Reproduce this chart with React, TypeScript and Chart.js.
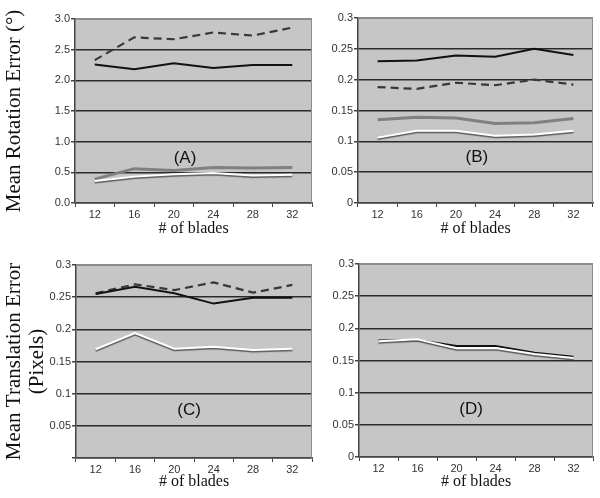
import React, { useEffect, useRef } from 'react';
import { Chart, registerables } from 'chart.js';

Chart.register(...registerables);

// ---------- data ----------
const blades = ['12', '16', '20', '24', '28', '32'];

// (A) rotation error, degrees
const rotA_black = [2.26, 2.18, 2.28, 2.2, 2.25, 2.25];
const rotA_dashed = [2.33, 2.7, 2.67, 2.78, 2.73, 2.86];
const rotA_gray = [0.39, 0.56, 0.53, 0.58, 0.57, 0.58];
const rotA_white = [0.36, 0.43, 0.47, 0.49, 0.45, 0.46];

// (B) rotation error, degrees
const rotB_black = [0.23, 0.231, 0.239, 0.237, 0.25, 0.24];
const rotB_dashed = [0.188, 0.185, 0.195, 0.191, 0.2, 0.192];
const rotB_gray = [0.135, 0.139, 0.138, 0.129, 0.13, 0.137];
const rotB_white = [0.106, 0.117, 0.117, 0.109, 0.111, 0.117];

// (C) translation error, pixels
const transC_black = [0.255, 0.266, 0.256, 0.24, 0.249, 0.249];
const transC_dashed = [0.256, 0.27, 0.261, 0.273, 0.257, 0.269];
const transC_white = [0.169, 0.194, 0.17, 0.173, 0.168, 0.17];

// (D) translation error, pixels
const transD_black = [0.181, 0.182, 0.1725, 0.1725, 0.162, 0.156];
const transD_white = [0.18, 0.183, 0.169, 0.1695, 0.16, 0.154];

const rotTicksA = { min: 0, max: 3, step: 0.5 };
const smallTicks = { min: 0, max: 0.3, step: 0.05 };

// ---------- styles ----------
const SANS = 'Arial, "Liberation Sans", sans-serif';
const SERIF = '"Times New Roman", "Liberation Serif", serif';

const lineBlack = (data: number[]) => ({ data, borderColor: '#111111', borderWidth: 2 });
const lineDashed = (data: number[]) => ({ data, borderColor: '#383838', borderWidth: 2.2, borderDash: [8, 5] });
const lineGray = (data: number[]) => ({ data, borderColor: '#808080', borderWidth: 3 });
const lineWhite = (data: number[]) => ({ data, borderColor: '#ffffff', borderWidth: 2, shadow: true });

// ---------- plugins ----------
const plotFrame = {
  id: 'plotFrame',
  beforeDraw(chart: any) {
    const { ctx, chartArea: a } = chart;
    ctx.save();
    ctx.fillStyle = '#c6c6c6';
    ctx.fillRect(a.left, a.top, a.right - a.left, a.bottom - a.top);
    ctx.restore();
  },
  beforeDatasetsDraw(chart: any) {
    const { ctx, chartArea: a } = chart;
    ctx.save();
    ctx.strokeStyle = '#8c8c8c';
    ctx.lineWidth = 1;
    ctx.beginPath();
    ctx.moveTo(a.left, a.top + 0.5);
    ctx.lineTo(a.right - 0.5, a.top + 0.5);
    ctx.lineTo(a.right - 0.5, a.bottom);
    ctx.stroke();
    ctx.restore();
  },
};

const lineShadow = {
  id: 'lineShadow',
  beforeDatasetDraw(chart: any, args: any) {
    const ds: any = chart.data.datasets[args.index];
    if (ds.shadow) {
      const ctx = chart.ctx;
      ctx.save();
      ctx.shadowColor = 'rgba(70,70,70,0.85)';
      ctx.shadowOffsetX = 0;
      ctx.shadowOffsetY = 1.5;
      ctx.shadowBlur = 1;
    }
  },
  afterDatasetDraw(chart: any, args: any) {
    const ds: any = chart.data.datasets[args.index];
    if (ds.shadow) chart.ctx.restore();
  },
};

const panelLabel = {
  id: 'panelLabel',
  afterDatasetsDraw(chart: any, _args: any, opts: any) {
    if (!opts || !opts.text) return;
    const { ctx, chartArea: a } = chart;
    ctx.save();
    ctx.font = `17px ${SANS}`;
    ctx.fillStyle = '#111';
    ctx.textAlign = 'center';
    ctx.textBaseline = 'middle';
    ctx.fillText(opts.text, a.left + (a.right - a.left) * opts.fx, a.top + (a.bottom - a.top) * opts.fy);
    ctx.restore();
  },
};

// ---------- panel ----------
type PanelProps = {
  left: number;
  top: number;
  width: number;
  height: number;
  padTop: number;
  padRight: number;
  yWidth: number;
  xHeight: number;
  yTitle?: string | string[];
  yRange: { min: number; max: number; step: number };
  decimals: number;
  hideZero?: boolean;
  datasets: any[];
  label: string;
  fx: number;
  fy: number;
};

function fmt(v: number, decimals: number) {
  if (decimals === 1) return v.toFixed(1);
  return String(Number(v.toFixed(2)));
}

function Panel(p: PanelProps) {
  const ref = useRef<HTMLCanvasElement | null>(null);
  useEffect(() => {
    if (!ref.current) return;
    const max = p.yRange.max;
    const chart = new Chart(ref.current, {
      type: 'line',
      data: {
        labels: blades,
        datasets: p.datasets.map((d) => ({ ...d, pointRadius: 0, tension: 0, fill: false })),
      },
      plugins: [plotFrame, lineShadow, panelLabel],
      options: {
        responsive: false,
        animation: false,
        layout: { padding: { top: p.padTop, right: p.padRight, left: 0, bottom: 0 } },
        plugins: {
          legend: { display: false },
          tooltip: { enabled: false },
          panelLabel: { text: p.label, fx: p.fx, fy: p.fy },
        } as any,
        scales: {
          x: {
            type: 'category',
            offset: true,
            grid: {
              offset: true,
              drawOnChartArea: false,
              drawTicks: true,
              tickLength: 4,
              color: '#444',
              lineWidth: 1,
            },
            border: { display: true, color: '#444', width: 1.5 },
            ticks: {
              font: { family: SANS, size: 11 },
              color: '#333',
              padding: 1,
              maxRotation: 0,
              autoSkip: false,
            },
            title: {
              display: true,
              text: '# of blades',
              font: { family: SERIF, size: 16 },
              color: '#111',
              padding: { top: 0, bottom: 7 },
            },
            afterFit: (s: any) => {
              s.height = p.xHeight;
            },
          },
          y: {
            min: p.yRange.min,
            max: p.yRange.max,
            ticks: {
              stepSize: p.yRange.step,
              font: { family: SANS, size: 11 },
              color: '#333',
              padding: 1,
              callback: (v: any) => {
                const n = Number(v);
                if (p.hideZero && n === 0) return '';
                return fmt(n, p.decimals);
              },
            },
            grid: {
              color: (c: any) => (c.tick && Math.abs(c.tick.value - max) < 1e-9 ? '#8c8c8c' : '#2a2a2a'),
              tickColor: '#444',
              lineWidth: 1.5,
              tickLength: 4,
              drawTicks: true,
            },
            border: { display: true, color: '#444', width: 1.5 },
            title: {
              display: !!p.yTitle,
              text: p.yTitle || '',
              font: { family: SERIF, size: 21, lineHeight: 1.1 },
              color: '#111',
              padding: { top: 3, bottom: 0 },
            },
            afterFit: (s: any) => {
              s.width = p.yWidth;
            },
          },
        },
      } as any,
    });
    return () => chart.destroy();
  }, []);
  return (
    <canvas
      ref={ref}
      width={p.width}
      height={p.height}
      style={{ position: 'absolute', left: p.left, top: p.top, width: p.width, height: p.height }}
    />
  );
}

export default function App() {
  return (
    <div style={{ position: 'absolute', left: 0, top: 0, width: 600, height: 498, background: '#fff', overflow: 'hidden' }}>
      <Panel
        left={0}
        top={0}
        width={320}
        height={245}
        padTop={19}
        padRight={8}
        yWidth={75}
        xHeight={42}
        yTitle="Mean Rotation Error (°)"
        yRange={rotTicksA}
        decimals={1}
        datasets={[lineWhite(rotA_white), lineGray(rotA_gray), lineBlack(rotA_black), lineDashed(rotA_dashed)]}
        label="(A)"
        fx={0.464}
        fy={0.755}
      />
      <Panel
        left={300}
        top={0}
        width={300}
        height={245}
        padTop={18}
        padRight={7}
        yWidth={58}
        xHeight={42}
        yRange={smallTicks}
        decimals={2}
        datasets={[lineWhite(rotB_white), lineGray(rotB_gray), lineBlack(rotB_black), lineDashed(rotB_dashed)]}
        label="(B)"
        fx={0.506}
        fy={0.751}
      />
      <Panel
        left={0}
        top={250}
        width={320}
        height={248}
        padTop={15}
        padRight={8}
        yWidth={76}
        xHeight={40}
        yTitle={['Mean Translation Error', '(Pixels)']}
        yRange={smallTicks}
        decimals={2}
        hideZero
        datasets={[lineWhite(transC_white), lineBlack(transC_black), lineDashed(transC_dashed)]}
        label="(C)"
        fx={0.479}
        fy={0.751}
      />
      <Panel
        left={300}
        top={250}
        width={300}
        height={248}
        padTop={14}
        padRight={7}
        yWidth={59}
        xHeight={41}
        yRange={smallTicks}
        decimals={2}
        datasets={[lineWhite(transD_white), lineBlack(transD_black)]}
        label="(D)"
        fx={0.479}
        fy={0.751}
      />
    </div>
  );
}
